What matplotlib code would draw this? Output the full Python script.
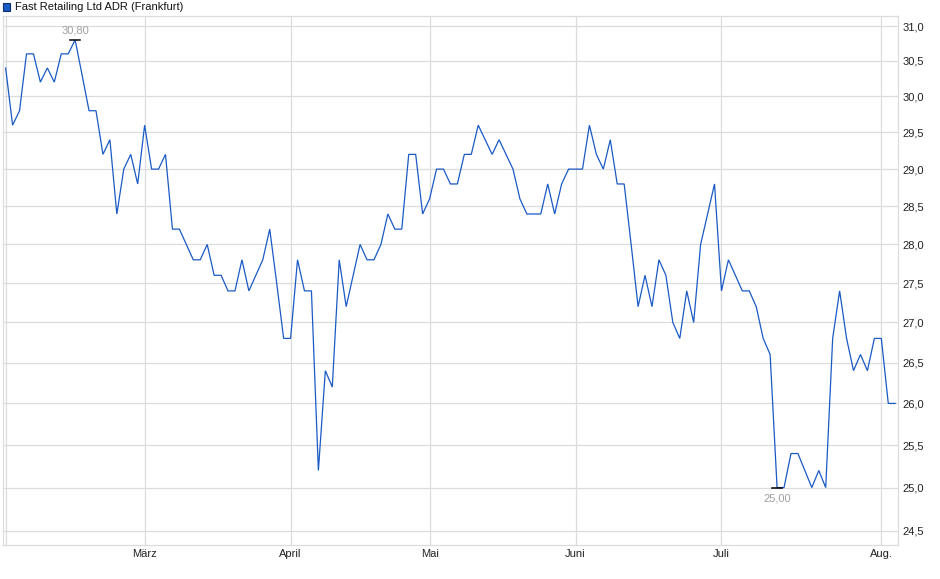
import numpy as np
import matplotlib
matplotlib.use("Agg")
import matplotlib.pyplot as plt
from matplotlib.patches import Rectangle
from matplotlib.ticker import FixedLocator, FuncFormatter, NullLocator

plt.rcParams["font.family"] = ["Liberation Sans", "DejaVu Sans"]

TITLE = "Fast Retailing Ltd ADR (Frankfurt)"

# closing prices, one per trading day (Feb - early Aug)
prices = [
    30.4, 29.6, 29.8, 30.6, 30.6, 30.2, 30.4, 30.2, 30.6, 30.6,
    30.8, 30.3, 29.8, 29.8, 29.2, 29.4, 28.4, 29.0, 29.2, 28.8,
    29.6, 29.0, 29.0, 29.2, 28.2, 28.2, 28.0, 27.8, 27.8, 28.0,
    27.6, 27.6, 27.4, 27.4, 27.8, 27.4, 27.6, 27.8, 28.2, 27.5,
    26.8, 26.8, 27.8, 27.4, 27.4, 25.2, 26.4, 26.2, 27.8, 27.2,
    27.6, 28.0, 27.8, 27.8, 28.0, 28.4, 28.2, 28.2, 29.2, 29.2,
    28.4, 28.6, 29.0, 29.0, 28.8, 28.8, 29.2, 29.2, 29.6, 29.4,
    29.2, 29.4, 29.2, 29.0, 28.6, 28.4, 28.4, 28.4, 28.8, 28.4,
    28.8, 29.0, 29.0, 29.0, 29.6, 29.2, 29.0, 29.4, 28.8, 28.8,
    28.0, 27.2, 27.6, 27.2, 27.8, 27.6, 27.0, 26.8, 27.4, 27.0,
    28.0, 28.4, 28.8, 27.4, 27.8, 27.6, 27.4, 27.4, 27.2, 26.8,
    26.6, 25.0, 25.0, 25.4, 25.4, 25.2, 25.0, 25.2, 25.0, 26.8,
    27.4, 26.8, 26.4, 26.6, 26.4, 26.8, 26.8, 26.0, 26.0,
]

# first trading day of each month (index into prices)
month_idx = [20, 41, 61, 82, 103, 126]
month_labels = ["März", "April", "Mai", "Juni", "Juli", "Aug."]

y_ticks = [24.5, 25.0, 25.5, 26.0, 26.5, 27.0, 27.5, 28.0, 28.5, 29.0, 29.5, 30.0, 30.5, 31.0]

LINE = "#1a5ac4"
GRID = "#dcdcdc"


def de_fmt(v, digits):
    return f"{v:.{digits}f}".replace(".", ",")


def main():
    W, H = 940, 579
    fig = plt.figure(figsize=(W / 100, H / 100), dpi=100)
    left, right, top, bottom = 3, 898, 16, 545
    ax = fig.add_axes([left / W, (H - bottom) / H, (right - left) / W, (bottom - top) / H])

    x = np.arange(len(prices))
    ax.plot(x, prices, color=LINE, lw=0.9, solid_joinstyle="miter", zorder=3)

    ax.set_yscale("log")
    ax.set_ylim(24.34, 31.145)
    ax.set_xlim(-0.38, 128.4)

    ax.yaxis.set_major_locator(FixedLocator(y_ticks))
    ax.yaxis.set_minor_locator(NullLocator())
    ax.yaxis.set_major_formatter(FuncFormatter(lambda v, _: de_fmt(v, 1)))
    ax.yaxis.tick_right()
    ax.set_xticks(month_idx)
    ax.set_xticklabels(month_labels)

    ax.tick_params(axis="y", length=0, pad=3, labelsize=8, labelcolor="#222222")
    ax.tick_params(axis="x", length=0, pad=3, labelsize=8, labelcolor="#222222")
    ax.grid(True, color=GRID, lw=0.9)
    ax.axvline(0, color=GRID, lw=0.9, zorder=1)
    ax.set_axisbelow(True)
    for sp in ax.spines.values():
        sp.set_color(GRID)
        sp.set_linewidth(0.9)

    # high / low markers
    vals = np.array(prices)
    for idx, off, va in [(int(np.argmax(vals)), 3, "bottom"), (int(np.argmin(vals)), -4, "top")]:
        v = vals[idx]
        ax.plot([idx - 0.75, idx + 0.75], [v, v], color="black", lw=1.1, zorder=4)
        ax.annotate(de_fmt(v, 2), xy=(idx, v), xytext=(0, off), textcoords="offset points",
                    ha="center", va=va, fontsize=8, color="#a0a0a0")

    # legend
    fig.patches.append(Rectangle((3 / W, 1 - 10.5 / H), 7 / W, 7 / H, transform=fig.transFigure,
                                 facecolor=LINE, edgecolor="#0d2f6b", lw=0.8))
    fig.text(15 / W, 1 - 6.5 / H, TITLE, fontsize=8, va="center", ha="left", color="#111111")

    fig.savefig("out.png", dpi=100, facecolor="white")


if __name__ == "__main__":
    main()
